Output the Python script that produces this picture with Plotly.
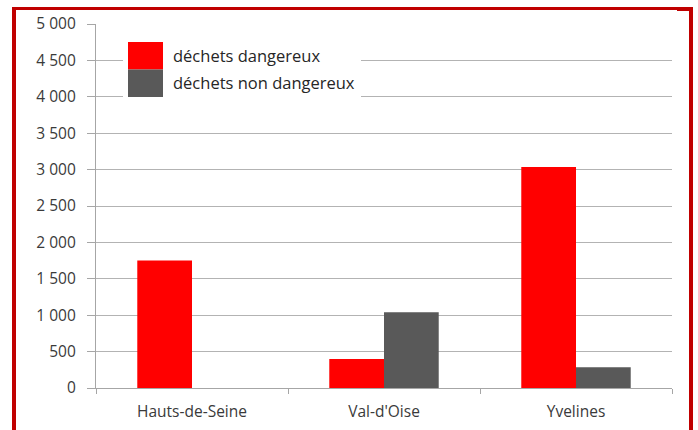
import plotly.graph_objects as go

# values (tonnes)
departements = ["Hauts-de-Seine", "Val-d'Oise", "Yvelines"]
dangereux = [1750, 400, 3035]
non_dangereux = [0, 1040, 285]
series_names = ["déchets dangereux", "déchets non dangereux"]
series_colors = ["#ff0000", "#595959"]
y_ticks = [0, 500, 1000, 1500, 2000, 2500, 3000, 3500, 4000, 4500, 5000]

W, H = 698, 430
L, R, T, B = 96, 26, 24, 42
pw, ph = W - L - R, H - T - B


def px(x):
    return (x - L) / pw


def py(y):
    return (H - B - y) / ph


fig = go.Figure()
for name, vals, col in zip(series_names, [dangereux, non_dangereux], series_colors):
    fig.add_trace(go.Bar(x=departements, y=vals, name=name, marker_color=col,
                         marker_line_width=0, showlegend=False))

fam = "'Open Sans', sans-serif"
fnt = dict(family=fam, size=15.5, color="#3a3a3a")

shapes = []
# red frame around the chart
red = "#c00000"
for x0, y0, x1, y1 in [(12, 7, 16, 430), (12, 7, 690, 10), (677, 7, 693, 11), (689, 7, 693, 430)]:
    shapes.append(dict(type="rect", xref="paper", yref="paper", x0=px(x0), x1=px(x1),
                       y0=py(y1), y1=py(y0), fillcolor=red, line_width=0, layer="above"))

# legend box drawn by hand (big swatches)
shapes.append(dict(type="rect", xref="paper", yref="paper", x0=px(123), x1=px(361),
                   y0=py(98), y1=py(40), fillcolor="white", line_width=0, layer="above"))
annotations = []
for i, (name, col) in enumerate(zip(series_names, series_colors)):
    top = 42 + i * 27.5
    shapes.append(dict(type="rect", xref="paper", yref="paper", x0=px(128), x1=px(163),
                       y0=py(top + 27.5), y1=py(top), fillcolor=col, line_width=0, layer="above"))
    annotations.append(dict(text=name, xref="paper", yref="paper", x=px(171), y=py(top + 13),
                            xanchor="left", yanchor="middle", showarrow=False,
                            font=dict(family=fam, size=16.5, color="#262626")))

fig.update_layout(
    width=W, height=H,
    margin=dict(l=L, r=R, t=T, b=B),
    paper_bgcolor="white", plot_bgcolor="white",
    barmode="group", bargap=0.43, bargroupgap=0,
    separators=", ",
    font=fnt,
    shapes=shapes, annotations=annotations,
    xaxis=dict(showline=True, linecolor="#a6a6a6", linewidth=1.3, ticks="outside",
               tickson="boundaries", ticklen=5, tickcolor="#a6a6a6", showgrid=False,
               ticklabelstandoff=9, automargin=False),
    yaxis=dict(range=[0, 5000], tickvals=y_ticks, tickformat=",d", showline=True,
               linecolor="#a6a6a6", linewidth=1.3, ticks="outside", ticklen=8,
               tickcolor="#a6a6a6", gridcolor="#b3b3b3", gridwidth=1.3, zeroline=False,
               ticklabelstandoff=8, automargin=False),
)

fig.write_html("out.html", config={"displayModeBar": False},
               post_script="document.body.style.margin='0';")
